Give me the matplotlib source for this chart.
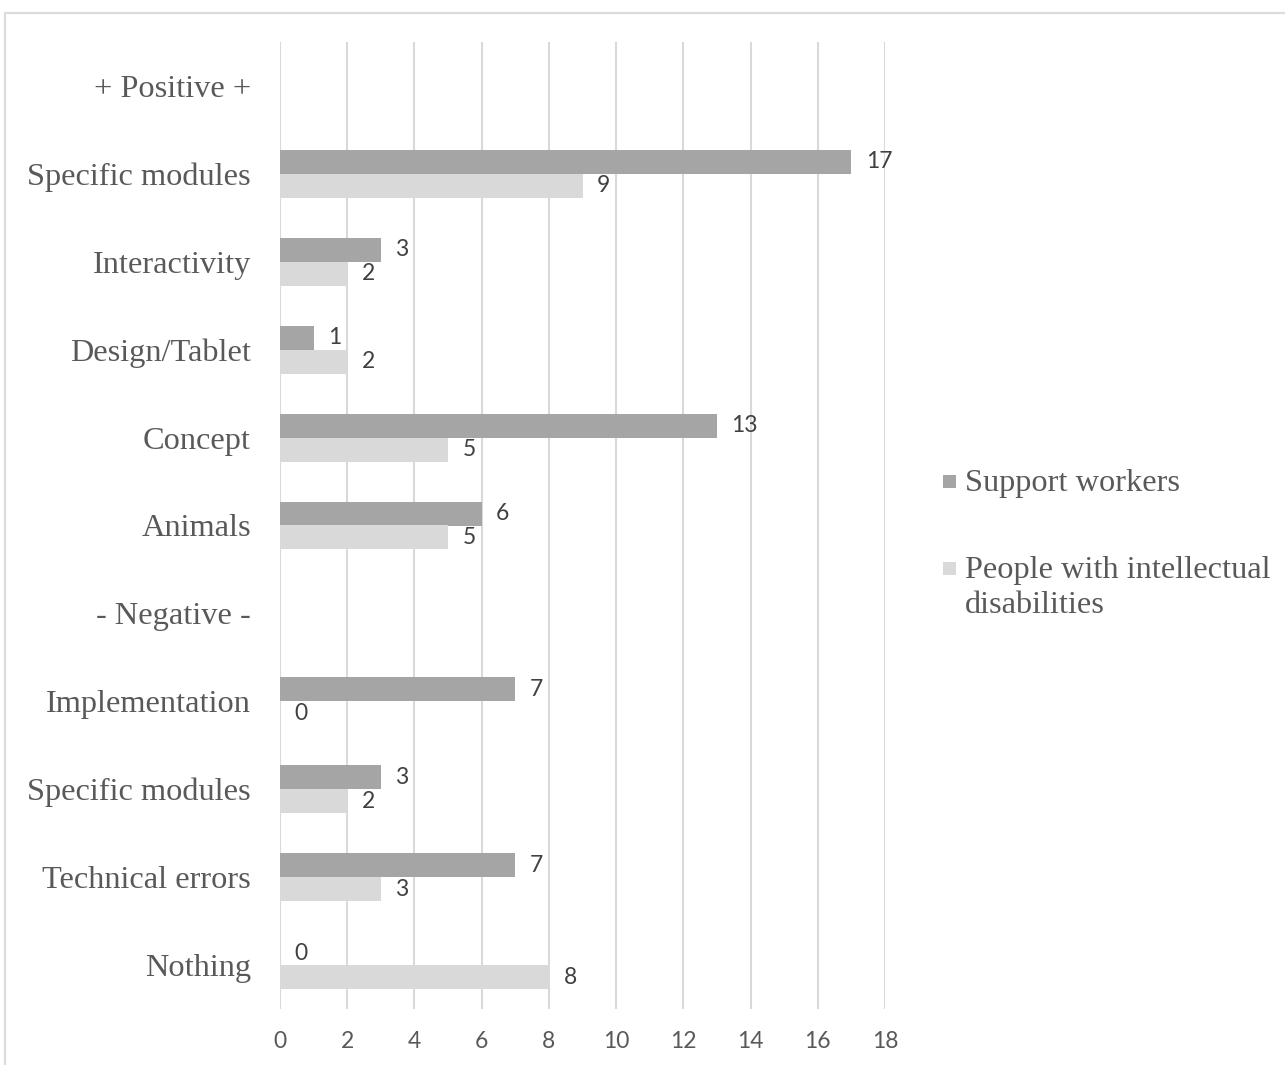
import matplotlib
matplotlib.use("Agg")
import matplotlib.pyplot as plt
from matplotlib.patches import Rectangle
import numpy as np

# Feedback categories (top to bottom); section headers carry no bars
categories = ["+ Positive +", "Specific modules", "Interactivity", "Design/Tablet",
              "Concept", "Animals", "- Negative -", "Implementation",
              "Specific modules", "Technical errors", "Nothing"]
support_workers = [None, 17, 3, 1, 13, 6, None, 7, 3, 7, 0]
people_id = [None, 9, 2, 2, 5, 5, None, 0, 2, 3, 8]
series_names = ["Support workers", "People with intellectual\ndisabilities"]
x_ticks = [0, 2, 4, 6, 8, 10, 12, 14, 16, 18]

DARK = "#a5a5a5"
LIGHT = "#d9d9d9"
GRID = "#d9d9d9"
TEXT = "#595959"
LABEL = "#404040"
SERIF = ["Liberation Serif", "DejaVu Serif"]
SANS = ["Lato", "DejaVu Sans"]

W, H = 1285, 1065
fig = plt.figure(figsize=(W / 100, H / 100), dpi=100)

# outer chart frame
fig.patches.append(Rectangle((5 / W, -0.1), 1.2, (1 - 13 / H) + 0.1,
                             transform=fig.transFigure, fill=False,
                             edgecolor="#dcdcdc", lw=1.6))

ax = fig.add_axes([280 / W, 1 - 1009 / H, (885 - 280) / W, (1009 - 42) / H])

y = np.arange(len(categories))
bh = 0.273
for vals, off, col in [(support_workers, -bh / 2, DARK), (people_id, bh / 2, LIGHT)]:
    for i, v in enumerate(vals):
        if v is None:
            continue
        ax.barh(y[i] + off, v, height=bh, color=col, zorder=3)
        ax.annotate(str(v), xy=(v, y[i] + off), xytext=(10.5, 0),
                    textcoords="offset points", va="center", ha="left",
                    fontsize=16.5, family=SANS, color=LABEL)

ax.set_ylim(len(categories) - 0.5, -0.5)
ax.set_xlim(0, 18)
ax.set_yticks(y)
ax.set_yticklabels(categories, family=SERIF, fontsize=23.3, color=TEXT)
ax.set_xticks(x_ticks)
ax.set_xticklabels([str(t) for t in x_ticks], family=SANS, fontsize=16.5, color=TEXT)
ax.tick_params(axis="y", length=0, pad=21)
ax.tick_params(axis="x", length=0, pad=16)
ax.grid(axis="x", color=GRID, lw=1.5, zorder=0)
ax.set_axisbelow(True)
for s in ax.spines.values():
    s.set_visible(False)

# legend
for (name, col, ty) in [(series_names[0], DARK, 481), (series_names[1], LIGHT, 568)]:
    fig.patches.append(Rectangle((943 / W, 1 - (ty + 7) / H), 13 / W, 13 / H,
                                 transform=fig.transFigure, color=col, lw=0))
    fig.text(965 / W, 1 - (ty - 12) / H, name, ha="left", va="top",
             family=SERIF, fontsize=23.3, color=TEXT, linespacing=1.27)

fig.savefig("out.png", dpi=100)
